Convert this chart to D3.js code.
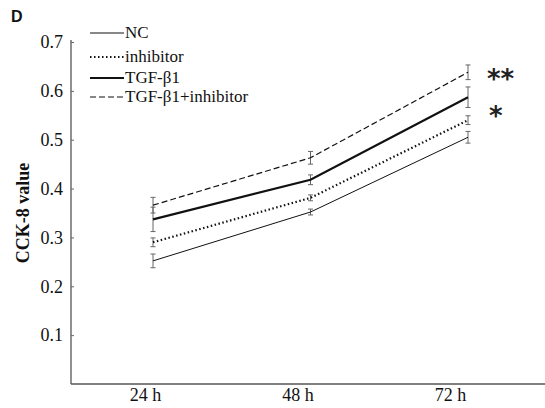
<!DOCTYPE html>
<html>
<head>
<meta charset="utf-8">
<script src="https://cdn.jsdelivr.net/npm/d3@7"></script>
<style>
body { margin: 0; background: #fff; }
</style>
</head>
<body>
<svg id="chart" width="545" height="408"></svg>
<script>
const times = ["24 h", "48 h", "72 h"];
const series_names = ["NC", "inhibitor", "TGF-\u03b21", "TGF-\u03b21+inhibitor"];
const nc_mean = [0.252, 0.352, 0.505];
const nc_err = [0.014, 0.006, 0.012];
const inh_mean = [0.290, 0.381, 0.540];
const inh_err = [0.009, 0.006, 0.009];
const tgf_mean = [0.337, 0.418, 0.587];
const tgf_err = [0.025, 0.010, 0.021];
const tgfinh_mean = [0.366, 0.463, 0.638];
const tgfinh_err = [0.016, 0.013, 0.015];
const y_ticks = [0.1, 0.2, 0.3, 0.4, 0.5, 0.6, 0.7];

const SERIF = '"Liberation Serif", "Times New Roman", serif';
const svg = d3.select('#chart');

const x = d3.scalePoint().domain(times).range([153, 468]);
const xLabel = d3.scalePoint().domain(times).range([145, 450]);
const y = d3.scaleLinear().domain([0, 0.7]).range([384, 42]);

// styles for each series
const styles = [
    { width: 1, dash: null },
    { width: 2.2, dash: "1.5,2.5" },
    { width: 2.2, dash: null },
    { width: 1.2, dash: "6,3" }
];
const all_means = [nc_mean, inh_mean, tgf_mean, tgfinh_mean];
const all_errs = [nc_err, inh_err, tgf_err, tgfinh_err];

// Axes
const yAxis = d3.axisLeft(y).tickValues(y_ticks).tickSize(-3).tickPadding(8).tickFormat(d3.format(".1f"));
const gy = svg.append('g').attr('transform', 'translate(71,0)').call(yAxis);
gy.attr('font-family', SERIF).attr('font-size', 18);
gy.select('.domain').attr('stroke', '#555').attr('stroke-width', 1.3).attr('d', 'M0,' + y(0) + 'V' + (y(0.7) - 2));
gy.selectAll('.tick line').attr('stroke', '#666');
gy.selectAll('.tick text').attr('fill', '#111');

svg.append('line')
    .attr('x1', 71).attr('x2', 545)
    .attr('y1', y(0)).attr('y2', y(0))
    .attr('stroke', '#555').attr('stroke-width', 1.3);

const xAxis = d3.axisBottom(xLabel).tickSize(0).tickPadding(4);
const gx = svg.append('g').attr('transform', 'translate(0,' + y(0) + ')').call(xAxis);
gx.attr('font-family', SERIF).attr('font-size', 18);
gx.select('.domain').remove();
gx.selectAll('.tick text').attr('fill', '#111');

// Error bars
for (let s = 0; s < all_means.length; s++) {
    for (let i = 0; i < times.length; i++) {
        const cx = x(times[i]);
        const top = y(all_means[s][i] + all_errs[s][i]);
        const bot = y(all_means[s][i] - all_errs[s][i]);
        const g = svg.append('g').attr('stroke', '#666').attr('stroke-width', 1);
        g.append('line').attr('x1', cx).attr('x2', cx).attr('y1', top).attr('y2', bot);
        g.append('line').attr('x1', cx - 2.5).attr('x2', cx + 2.5).attr('y1', top).attr('y2', top);
        g.append('line').attr('x1', cx - 2.5).attr('x2', cx + 2.5).attr('y1', bot).attr('y2', bot);
    }
}

// Lines
const line = d3.line().x((d, i) => x(times[i])).y(d => y(d));
for (let s = 0; s < all_means.length; s++) {
    svg.append('path')
        .attr('d', line(all_means[s]))
        .attr('fill', 'none')
        .attr('stroke', '#111')
        .attr('stroke-width', styles[s].width)
        .attr('stroke-dasharray', styles[s].dash);
}

// Legend
const legend_y = [33, 57, 78, 97];
for (let s = 0; s < series_names.length; s++) {
    svg.append('line')
        .attr('x1', 90).attr('x2', 124)
        .attr('y1', legend_y[s]).attr('y2', legend_y[s])
        .attr('stroke', '#111')
        .attr('stroke-width', styles[s].width)
        .attr('stroke-dasharray', styles[s].dash);
    svg.append('text')
        .attr('x', 125).attr('y', legend_y[s] + 5)
        .attr('font-family', SERIF)
        .attr('font-size', 17)
        .attr('fill', '#111')
        .text(series_names[s]);
}

// Significance stars
svg.append('text').attr('x', 487).attr('y', 88).attr('font-family', '"DejaVu Sans", sans-serif')
    .attr('font-size', 26).attr('font-weight', 'bold').attr('fill', '#222').text('**');
svg.append('text').attr('x', 489).attr('y', 125).attr('font-family', '"DejaVu Sans", sans-serif')
    .attr('font-size', 26).attr('font-weight', 'bold').attr('fill', '#222').text('*');

// Y label
svg.append('text')
    .attr('transform', 'translate(29,213) rotate(-90)')
    .attr('text-anchor', 'middle')
    .attr('font-family', SERIF)
    .attr('font-size', 18)
    .attr('font-weight', 'bold')
    .attr('fill', '#111')
    .text('CCK-8  value');

// Panel letter
svg.append('text')
    .attr('x', 11).attr('y', 22)
    .attr('font-family', '"Liberation Sans", Arial, sans-serif')
    .attr('font-size', 16)
    .attr('font-weight', 'bold')
    .attr('fill', '#111')
    .text('D');
</script>
</body>
</html>
